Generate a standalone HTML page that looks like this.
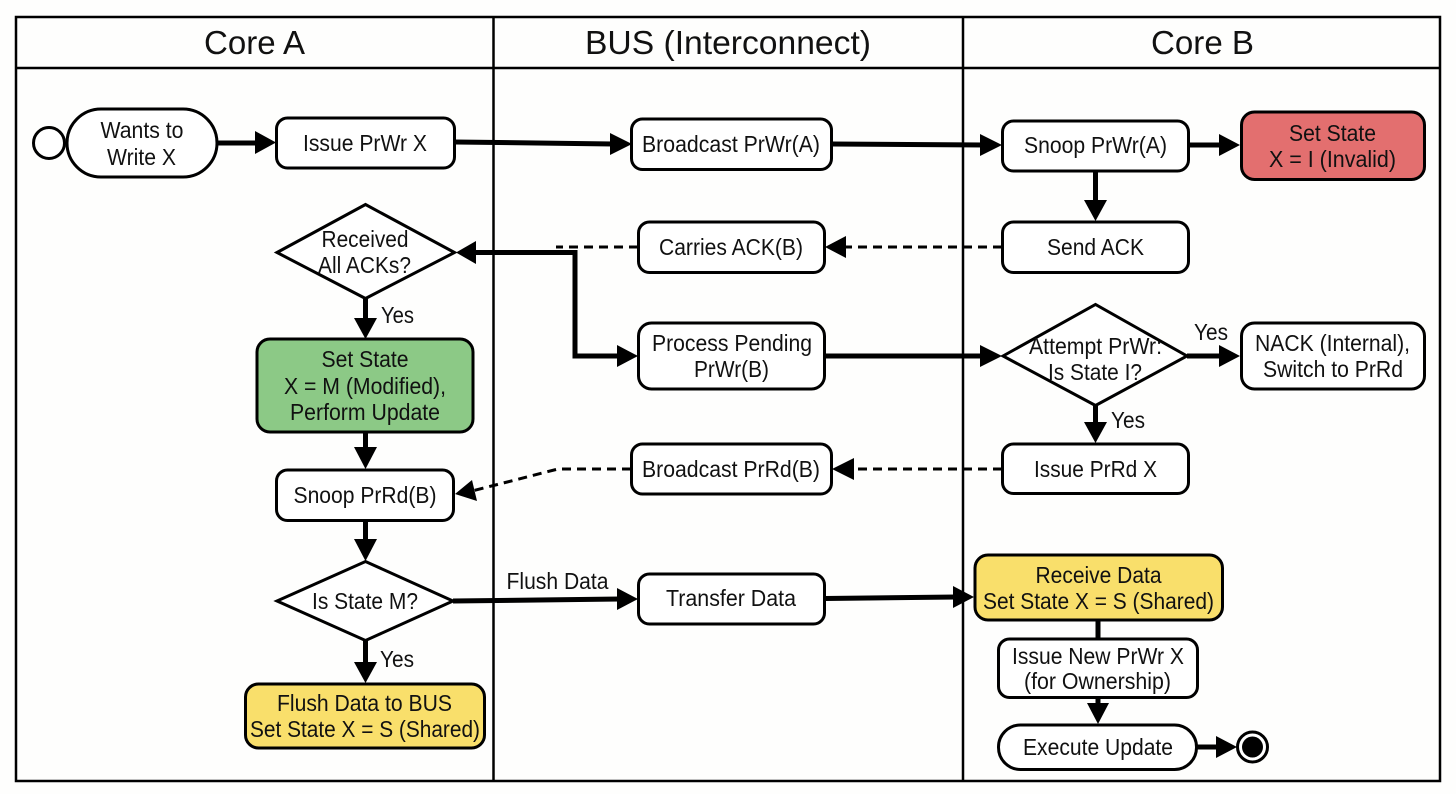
<!DOCTYPE html>
<html>
<head>
<meta charset="utf-8">
<style>
html,body{margin:0;padding:0;background:#fefefd;}
svg{display:block;}
text{font-family:"Liberation Sans",sans-serif;fill:#111;text-anchor:middle;}
.h{font-size:33px;}
.t{font-size:23px;}
.b{fill:#fff;stroke:#000;stroke-width:3;}
.l{fill:none;stroke:#000;stroke-width:5;}
.d{fill:none;stroke:#000;stroke-width:3;stroke-dasharray:9 6;}
</style>
</head>
<body>
<svg width="1456" height="794" viewBox="0 0 1456 794" xmlns="http://www.w3.org/2000/svg">
<rect width="1456" height="794" fill="#fefefd"/>
<rect x="16" y="17" width="1424" height="764" fill="none" stroke="#000" stroke-width="2.5"/>
<line x1="16" y1="68" x2="1440" y2="68" stroke="#000" stroke-width="2.5"/>
<line x1="493.5" y1="17" x2="493.5" y2="781" stroke="#000" stroke-width="2.5"/>
<line x1="963" y1="17" x2="963" y2="781" stroke="#000" stroke-width="2.5"/>
<text class="h" x="254.5" y="54" textLength="101" lengthAdjust="spacingAndGlyphs">Core A</text>
<text class="h" x="728" y="54" textLength="286" lengthAdjust="spacingAndGlyphs">BUS (Interconnect)</text>
<text class="h" x="1202.5" y="54" textLength="103" lengthAdjust="spacingAndGlyphs">Core B</text>

<!-- connectors -->
<path class="l" d="M217 143H258"/><path d="M255 131L276 142.500L255 154Z"/>
<path class="l" d="M455 142L613 144"/><path d="M610 133L632 144L610 155Z"/>
<path class="l" d="M832 144L984 145"/><path d="M980 134L1002 145L980 156Z"/>
<path class="l" d="M1189 145H1222"/><path d="M1219 134L1240 145L1219 156Z"/>
<path class="l" d="M1095.500 171V203"/><path d="M1084 200L1095.500 221L1107 200Z"/>
<path class="d" d="M1002 247H845"/><path d="M846 236L825 247L846 258Z"/>
<path class="d" d="M638 247H556"/>
<path class="l" d="M472 252.500H575V356H620"/><path d="M476 241L456 252.500L476 264Z"/><path d="M617 345L638 356L617 367Z"/>
<path class="l" d="M825 356H984"/><path d="M980 345L1002 356L980 367Z"/>
<path class="l" d="M1187 356H1222"/><path d="M1219 345L1240 356L1219 367Z"/>
<path class="l" d="M1095.500 405V425"/><path d="M1084 422L1095.500 443L1107 422Z"/>
<path class="d" d="M1002 469H852"/><path d="M854 458L832 469L854 480Z"/>
<path class="d" d="M631 469H558L472 491"/><path d="M472 480L455 494L477 501Z"/>
<path class="l" d="M365.500 298V320"/><path d="M354 318L365.500 339L377 318Z"/>
<path class="l" d="M365.500 432V450"/><path d="M354 447L365.500 469L377 447Z"/>
<path class="l" d="M365.500 520V542"/><path d="M354 539L365.500 561L377 539Z"/>
<path class="l" d="M365.500 641V665"/><path d="M354 662L365.500 683L377 662Z"/>
<path class="l" d="M453 601L620 599"/><path d="M617 588L638 599L617 610Z"/>
<path class="l" d="M825 598.500L956 597"/><path d="M953 586L974 597L953 608Z"/>
<path class="l" d="M1098 620V640"/>
<path class="l" d="M1098 698V706"/><path d="M1087 703L1098 724L1109 703Z"/>
<path class="l" d="M1197 747H1220"/><path d="M1216 736L1237 747L1216 758Z"/>

<!-- start / end -->
<circle cx="49" cy="143" r="15.500" class="b"/>
<circle cx="1252.500" cy="747" r="15" class="b"/>
<circle cx="1252.500" cy="747" r="10.500" fill="#000"/>

<!-- Core A -->
<rect class="b" x="67" y="109" width="150" height="68" rx="34"/>
<text class="t" x="142" y="138" textLength="83" lengthAdjust="spacingAndGlyphs">Wants to</text>
<text class="t" x="141.500" y="165" textLength="69" lengthAdjust="spacingAndGlyphs">Write X</text>
<rect class="b" x="276.500" y="118" width="178" height="50" rx="11"/>
<text class="t" x="365" y="151" textLength="124" lengthAdjust="spacingAndGlyphs">Issue PrWr X</text>
<path class="b" d="M277 252.500L365.500 204.500L454.500 252.500L365.500 298.500Z"/>
<text class="t" x="365" y="247" textLength="87" lengthAdjust="spacingAndGlyphs">Received</text>
<text class="t" x="364.500" y="273" textLength="93" lengthAdjust="spacingAndGlyphs">All ACKs?</text>
<text class="t" x="397.500" y="323" textLength="33" lengthAdjust="spacingAndGlyphs">Yes</text>
<rect x="257" y="339" width="216" height="93" rx="13" fill="#8cc986" stroke="#000" stroke-width="3"/>
<text class="t" x="365" y="367" textLength="87" lengthAdjust="spacingAndGlyphs">Set State</text>
<text class="t" x="365" y="394" textLength="162" lengthAdjust="spacingAndGlyphs">X = M (Modified),</text>
<text class="t" x="365" y="420" textLength="150" lengthAdjust="spacingAndGlyphs">Perform Update</text>
<rect class="b" x="276.500" y="470" width="177" height="50.500" rx="11"/>
<text class="t" x="365" y="503" textLength="143" lengthAdjust="spacingAndGlyphs">Snoop PrRd(B)</text>
<path class="b" d="M277 601L365.500 561.500L453 601L365.500 640.500Z"/>
<text class="t" x="365" y="609" textLength="106" lengthAdjust="spacingAndGlyphs">Is State M?</text>
<text class="t" x="397" y="667" textLength="34" lengthAdjust="spacingAndGlyphs">Yes</text>
<rect x="245.500" y="684" width="239" height="64" rx="13" fill="#f9df6b" stroke="#000" stroke-width="3"/>
<text class="t" x="364.500" y="711" textLength="175" lengthAdjust="spacingAndGlyphs">Flush Data to BUS</text>
<text class="t" x="365" y="737" textLength="230" lengthAdjust="spacingAndGlyphs">Set State X = S (Shared)</text>

<!-- BUS -->
<rect class="b" x="631.500" y="119" width="200" height="50.500" rx="11"/>
<text class="t" x="731" y="152" textLength="178" lengthAdjust="spacingAndGlyphs">Broadcast PrWr(A)</text>
<rect class="b" x="638.500" y="222" width="186" height="50.500" rx="11"/>
<text class="t" x="731" y="255" textLength="144" lengthAdjust="spacingAndGlyphs">Carries ACK(B)</text>
<rect class="b" x="638.500" y="323" width="186" height="66" rx="13"/>
<text class="t" x="732" y="351" textLength="160" lengthAdjust="spacingAndGlyphs">Process Pending</text>
<text class="t" x="731.500" y="377" textLength="75" lengthAdjust="spacingAndGlyphs">PrWr(B)</text>
<rect class="b" x="631.500" y="444" width="200" height="50" rx="11"/>
<text class="t" x="731" y="477" textLength="178" lengthAdjust="spacingAndGlyphs">Broadcast PrRd(B)</text>
<text class="t" x="557.500" y="589" textLength="102" lengthAdjust="spacingAndGlyphs">Flush Data</text>
<rect class="b" x="638.500" y="574" width="186" height="50" rx="11"/>
<text class="t" x="731" y="606" textLength="130" lengthAdjust="spacingAndGlyphs">Transfer Data</text>

<!-- Core B -->
<rect class="b" x="1002.500" y="121" width="186" height="50" rx="11"/>
<text class="t" x="1095.500" y="153" textLength="143" lengthAdjust="spacingAndGlyphs">Snoop PrWr(A)</text>
<rect x="1241.500" y="112" width="183" height="67.500" rx="13" fill="#e36f6f" stroke="#000" stroke-width="3"/>
<text class="t" x="1332.500" y="141" textLength="87" lengthAdjust="spacingAndGlyphs">Set State</text>
<text class="t" x="1332.500" y="167" textLength="127" lengthAdjust="spacingAndGlyphs">X = I (Invalid)</text>
<rect class="b" x="1002.500" y="222" width="186" height="50.500" rx="11"/>
<text class="t" x="1095.500" y="255" textLength="97" lengthAdjust="spacingAndGlyphs">Send ACK</text>
<path class="b" d="M1003 356L1095.500 304.500L1187 356L1095.500 405.500Z"/>
<text class="t" x="1095.500" y="354" textLength="133" lengthAdjust="spacingAndGlyphs">Attempt PrWr:</text>
<text class="t" x="1095" y="380" textLength="94" lengthAdjust="spacingAndGlyphs">Is State I?</text>
<text class="t" x="1211" y="340" textLength="34" lengthAdjust="spacingAndGlyphs">Yes</text>
<rect class="b" x="1241.500" y="323" width="183" height="66" rx="13"/>
<text class="t" x="1332.500" y="351" textLength="155" lengthAdjust="spacingAndGlyphs">NACK (Internal),</text>
<text class="t" x="1333" y="377" textLength="140" lengthAdjust="spacingAndGlyphs">Switch to PrRd</text>
<text class="t" x="1128" y="428" textLength="34" lengthAdjust="spacingAndGlyphs">Yes</text>
<rect class="b" x="1002.500" y="444" width="186" height="49.500" rx="11"/>
<text class="t" x="1095.500" y="477" textLength="123" lengthAdjust="spacingAndGlyphs">Issue PrRd X</text>
<rect x="975" y="555" width="247.500" height="65" rx="13" fill="#f9df6b" stroke="#000" stroke-width="3"/>
<text class="t" x="1098.500" y="583" textLength="126" lengthAdjust="spacingAndGlyphs">Receive Data</text>
<text class="t" x="1098.500" y="609" textLength="231" lengthAdjust="spacingAndGlyphs">Set State X = S (Shared)</text>
<rect class="b" x="998.500" y="639" width="199" height="58.500" rx="11"/>
<text class="t" x="1098" y="664" textLength="172" lengthAdjust="spacingAndGlyphs">Issue New PrWr X</text>
<text class="t" x="1097.500" y="689" textLength="147" lengthAdjust="spacingAndGlyphs">(for Ownership)</text>
<rect class="b" x="998.500" y="725" width="198" height="44.500" rx="22"/>
<text class="t" x="1098" y="755" textLength="150" lengthAdjust="spacingAndGlyphs">Execute Update</text>
</svg>
</body>
</html>
